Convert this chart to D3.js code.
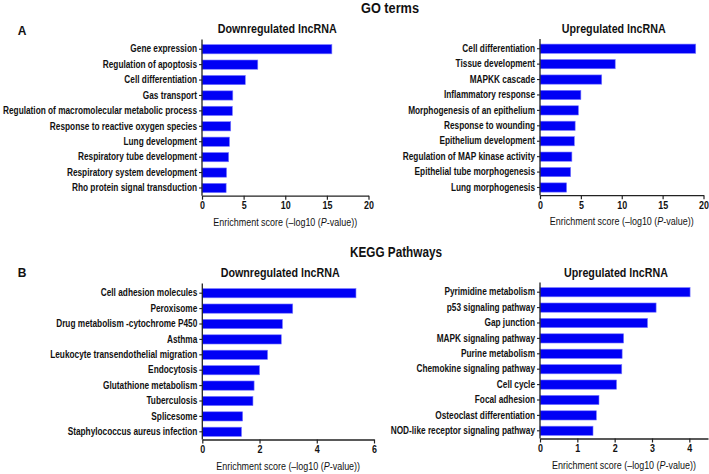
<!DOCTYPE html>
<html>
<head>
<meta charset="utf-8">
<script src="https://cdn.jsdelivr.net/npm/d3@7"></script>
<style>
  body { margin: 0; background: #fff; }
  svg { display: block; }
  text { font-family: "Liberation Sans", Arial, sans-serif; fill: #111; }
</style>
</head>
<body>
<svg id="chart" width="709" height="474"></svg>
<script>
// ---- Data ----
const goDownCategories = ["Gene expression", "Regulation of apoptosis", "Cell differentiation", "Gas transport",
  "Regulation of macromolecular metabolic process", "Response to reactive oxygen species", "Lung development",
  "Respiratory tube development", "Respiratory system development", "Rho protein signal transduction"];
const goDownValues = [15.6, 6.7, 5.2, 3.7, 3.65, 3.45, 3.3, 3.2, 2.95, 2.9];

const goUpCategories = ["Cell differentiation", "Tissue development", "MAPKK cascade", "Inflammatory response",
  "Morphogenesis of an epithelium", "Response to wounding", "Epithelium development",
  "Regulation of MAP kinase activity", "Epithelial tube morphogenesis", "Lung morphogenesis"];
const goUpValues = [19.05, 9.2, 7.55, 5.0, 4.7, 4.3, 4.2, 3.9, 3.75, 3.25];

const keggDownCategories = ["Cell adhesion molecules", "Peroxisome", "Drug metabolism -cytochrome P450", "Asthma",
  "Leukocyte transendothelial migration", "Endocytosis", "Glutathione metabolism", "Tuberculosis",
  "Splicesome", "Staphylococcus aureus infection"];
const keggDownValues = [5.37, 3.16, 2.8, 2.76, 2.28, 2.0, 1.81, 1.77, 1.41, 1.37];

const keggUpCategories = ["Pyrimidine metabolism", "p53 signaling pathway", "Gap junction", "MAPK signaling pathway",
  "Purine metabolism", "Chemokine signaling pathway", "Cell cycle", "Focal adhesion",
  "Osteoclast differentiation", "NOD-like receptor signaling pathway"];
const keggUpValues = [4.02, 3.11, 2.88, 2.24, 2.2, 2.19, 2.05, 1.58, 1.51, 1.42];

const goTicks = [0, 5, 10, 15, 20];
const keggDownTicks = [0, 2, 4, 6];
const keggUpTicks = [0, 1, 2, 3, 4];

const sectionTitles = ["GO terms", "KEGG Pathways"];
const panelLetters = ["A", "B"];
const panelTitles = ["Downregulated lncRNA", "Upregulated lncRNA"];

// ---- Drawing ----
const svg = d3.select("#chart");

// Horizontal condensing (reference uses a narrow sans face)
function condense(sel, factor) {
  sel.each(function () {
    const w = this.getComputedTextLength();
    d3.select(this).attr("textLength", w * factor).attr("lengthAdjust", "spacingAndGlyphs");
  });
}

// measure condensing factor for category labels from the longest label
const probe = svg.append("text").attr("font-size", "10px").attr("font-weight", "bold")
  .text(goDownCategories[4]);
const labelFactor = 194 / probe.node().getComputedTextLength();
probe.remove();

function drawPanel(cfg) {
  const g = svg.append("g");
  const x = d3.scaleLinear().domain([0, cfg.xMax]).range([cfg.x0, cfg.x1]);
  const y = d3.scaleBand().domain(cfg.cats).range([cfg.yTop, cfg.yBottom]).paddingInner(0.4).paddingOuter(0.2);

  g.selectAll("rect.bar").data(cfg.cats).enter().append("rect")
    .attr("class", "bar")
    .attr("x", x(0))
    .attr("y", d => y(d))
    .attr("width", (d, i) => x(cfg.vals[i]) - x(0))
    .attr("height", y.bandwidth())
    .attr("fill", "#0000f5")
    .attr("stroke", "#7a7aff")
    .attr("stroke-width", 0.6);

  // y axis
  const yAxis = g.append("g").attr("transform", `translate(${x(0)},0)`)
    .call(d3.axisLeft(y).tickSize(3).tickSizeOuter(0).tickPadding(2));
  yAxis.select(".domain").attr("stroke", "#222").attr("stroke-width", 1.3)
    .attr("d", `M0,${cfg.yTop - 2}V${cfg.yBottom}`);
  yAxis.selectAll(".tick line").attr("stroke", "#222").attr("stroke-width", 1.1);
  const yt = yAxis.selectAll(".tick text").attr("font-size", "10px").attr("font-weight", "bold").attr("fill", "#111")
    .style("font-family", '"Liberation Sans", Arial, sans-serif');
  condense(yt, labelFactor);

  // x axis
  const xAxis = g.append("g").attr("transform", `translate(0,${cfg.yBottom})`)
    .call(d3.axisBottom(x).tickValues(cfg.ticks).tickFormat(d3.format("d")).tickSize(4).tickSizeOuter(0).tickPadding(2));
  xAxis.select(".domain").attr("stroke", "#222").attr("stroke-width", 1.3);
  xAxis.selectAll(".tick line").attr("stroke", "#222").attr("stroke-width", 1.2);
  const xt = xAxis.selectAll(".tick text").attr("font-size", "10.5px").attr("font-weight", "bold").attr("fill", "#111")
    .style("font-family", '"Liberation Sans", Arial, sans-serif');
  condense(xt, 0.85);

  // axis title (condensed via transform)
  const t = g.append("text")
    .attr("transform", `translate(${(cfg.x0 + cfg.x1) / 2},${cfg.yBottom + 30})`)
    .attr("text-anchor", "middle").attr("font-size", "10.5px");
  t.append("tspan").text("Enrichment score (\u2013log10 (");
  t.append("tspan").attr("font-style", "italic").text("P");
  t.append("tspan").text("-value))");
  const tw = t.node().getComputedTextLength();
  t.attr("transform", `translate(${(cfg.x0 + cfg.x1) / 2},${cfg.yBottom + 30}) scale(${144 / tw},1)`);

  // panel title
  const pt = g.append("text")
    .attr("x", (cfg.x0 + cfg.x1) / 2 - 8).attr("y", cfg.titleY)
    .attr("text-anchor", "middle").attr("font-size", "13px").attr("font-weight", "bold")
    .text(cfg.title);
  pt.attr("textLength", cfg.titleW).attr("lengthAdjust", "spacingAndGlyphs");
}

// section titles & letters
svg.append("text").attr("x", 390).attr("y", 13).attr("text-anchor", "middle")
  .attr("font-size", "14px").attr("font-weight", "bold").text(sectionTitles[0])
  .attr("textLength", 58).attr("lengthAdjust", "spacingAndGlyphs");
svg.append("text").attr("x", 396).attr("y", 257).attr("text-anchor", "middle")
  .attr("font-size", "14px").attr("font-weight", "bold").text(sectionTitles[1])
  .attr("textLength", 92).attr("lengthAdjust", "spacingAndGlyphs");
svg.append("text").attr("x", 22).attr("y", 35).attr("text-anchor", "middle")
  .attr("font-size", "12px").attr("font-weight", "bold").text(panelLetters[0]);
svg.append("text").attr("x", 22).attr("y", 277).attr("text-anchor", "middle")
  .attr("font-size", "12px").attr("font-weight", "bold").text(panelLetters[1]);

drawPanel({cats: goDownCategories, vals: goDownValues, xMax: 20, ticks: goTicks,
  x0: 202, x1: 368.5, yTop: 41.5, yBottom: 195.7, title: panelTitles[0], titleY: 33, titleW: 119});
drawPanel({cats: goUpCategories, vals: goUpValues, xMax: 20, ticks: goTicks,
  x0: 540, x1: 703.5, yTop: 41, yBottom: 195.2, title: panelTitles[1], titleY: 33, titleW: 104});
drawPanel({cats: keggDownCategories, vals: keggDownValues, xMax: 6, ticks: keggDownTicks,
  x0: 202.3, x1: 374, yTop: 285.5, yBottom: 439.5, title: panelTitles[0], titleY: 277, titleW: 119});
drawPanel({cats: keggUpCategories, vals: keggUpValues, xMax: 4.5, ticks: keggUpTicks,
  x0: 540, x1: 708, yTop: 284.5, yBottom: 438.5, title: panelTitles[1], titleY: 277, titleW: 104});
</script>
</body>
</html>
